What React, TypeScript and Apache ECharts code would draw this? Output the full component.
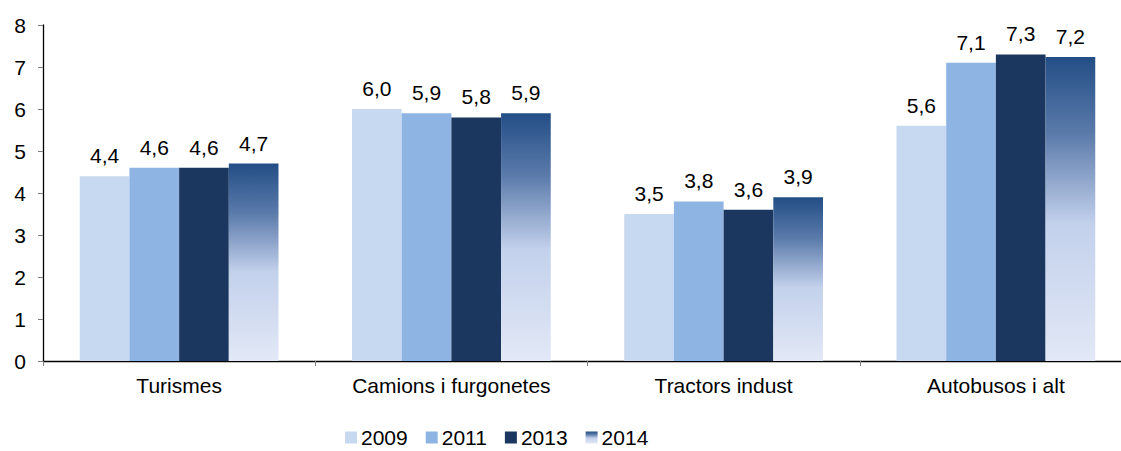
import React, { useEffect, useRef } from "react";
import * as echarts from "echarts";

const categories = ["Turismes", "Camions i furgonetes", "Tractors indust", "Autobusos i alt"];
const years = ["2009", "2011", "2013", "2014"];
const values2009 = [4.4, 6.0, 3.5, 5.6];
const values2011 = [4.6, 5.9, 3.8, 7.1];
const values2013 = [4.6, 5.8, 3.6, 7.3];
const values2014 = [4.7, 5.9, 3.9, 7.24];
const yTicks = [0, 1, 2, 3, 4, 5, 6, 7, 8];

const FONT = "'Liberation Sans', Arial, sans-serif";
const FS = 21;

export default function App() {
  const ref = useRef<HTMLDivElement>(null);
  useEffect(() => {
    if (!ref.current) return;
    const chart = echarts.init(ref.current, undefined, { renderer: "svg" });
    const grad = new echarts.graphic.LinearGradient(0, 0, 0, 1, [
      { offset: 0, color: "#234e86" },
      { offset: 0.25, color: "#5a7aaa" },
      { offset: 0.55, color: "#c3d1ec" },
      { offset: 1, color: "#e2e8f6" },
    ]);
    const colors = ["#c6d9f1", "#8eb4e3", "#1b375f", grad];
    const allData = [values2009, values2011, values2013, values2014];
    const label = {
      show: true,
      position: "top" as const,
      distance: 10,
      color: "#000",
      fontFamily: FONT,
      fontSize: FS,
      formatter: (p: any) => Number(p.value).toFixed(1).replace(".", ","),
    };
    chart.setOption({
      animation: false,
      textStyle: { fontFamily: FONT },
      grid: { left: 43, right: 0, top: 25, bottom: 90, containLabel: false },
      legend: {
        data: years,
        left: 345,
        top: 427,
        padding: 0,
        itemWidth: 12,
        itemHeight: 12,
        itemGap: 18,
        icon: "rect",
        textStyle: { fontFamily: FONT, fontSize: FS, lineHeight: 21, color: "#000", padding: [0, 0, 0, -1] },
      },
      xAxis: {
        type: "category",
        data: categories,
        axisLine: { lineStyle: { color: "#000", width: 1.3 } },
        axisTick: { show: true, length: 5, lineStyle: { color: "#808080" } },
        axisLabel: { color: "#000", fontSize: FS, fontFamily: FONT, margin: 14 },
      },
      yAxis: {
        type: "value",
        min: yTicks[0],
        max: yTicks[yTicks.length - 1],
        interval: 1,
        splitLine: { show: false },
        axisLine: { show: true, lineStyle: { color: "#000", width: 1.3 } },
        axisTick: { show: true, length: 5, lineStyle: { color: "#808080" } },
        axisLabel: { color: "#000", fontSize: FS, fontFamily: FONT, margin: 17 },
      },
      series: years.map((y, i) => ({
        name: y,
        type: "bar",
        data: allData[i],
        barGap: "0%",
        barCategoryGap: "27%",
        itemStyle: { color: colors[i] },
        label,
      })),
    });
    return () => chart.dispose();
  }, []);
  return (
    <div
      style={{ position: "fixed", left: 0, top: 0, width: 1121, height: 451, overflow: "hidden", background: "#fff" }}
    >
      <div ref={ref} style={{ width: 1132, height: 451 }} />
    </div>
  );
}
